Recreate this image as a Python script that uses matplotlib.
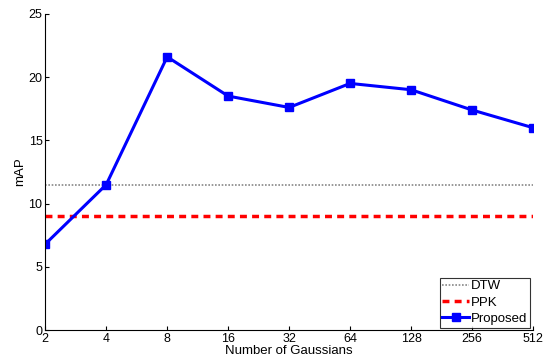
import numpy as np
import matplotlib
matplotlib.use("Agg")
import matplotlib.pyplot as plt

plt.rcParams["font.family"] = ["Liberation Sans", "DejaVu Sans"]

gaussians = ["2", "4", "8", "16", "32", "64", "128", "256", "512"]
proposed = [6.8, 11.5, 21.6, 18.5, 17.6, 19.5, 19.0, 17.4, 16.0]
dtw = 11.5
ppk = 9.0

fig = plt.figure(figsize=(5.45, 3.64), dpi=100)
ax = fig.add_axes([0.083, 0.093, 0.895, 0.869])
x = np.arange(len(gaussians))

ax.plot(x, [dtw] * len(x), linestyle=(0, (1, 1)), color="#888888", lw=1.2, label="DTW")
ax.plot(x, [ppk] * len(x), linestyle=(0, (2, 1.5)), color="red", lw=2.5, label="PPK")
ax.plot(x, proposed, "-s", color="blue", lw=2.2, ms=6, label="Proposed")

ax.set_xlim(0, len(x) - 1)
ax.set_ylim(0, 25)
ax.set_xticks(x)
ax.set_xticklabels(gaussians)
ax.set_yticks([0, 5, 10, 15, 20, 25])
ax.tick_params(direction="in", labelsize=9, length=3, pad=2)
ax.spines["top"].set_visible(False)
ax.spines["right"].set_visible(False)
ax.set_xlabel("Number of Gaussians", fontsize=9.5, labelpad=0)
ax.set_ylabel("mAP", fontsize=9.5, labelpad=2)

leg = ax.legend(loc="lower right", fontsize=9.5, frameon=True, fancybox=False,
                borderpad=0.2, labelspacing=0.3, handlelength=2.0, handletextpad=0.2,
                borderaxespad=0.2)
leg.get_frame().set_edgecolor("black")
leg.get_frame().set_linewidth(0.8)

fig.savefig("out.png", dpi=100)
